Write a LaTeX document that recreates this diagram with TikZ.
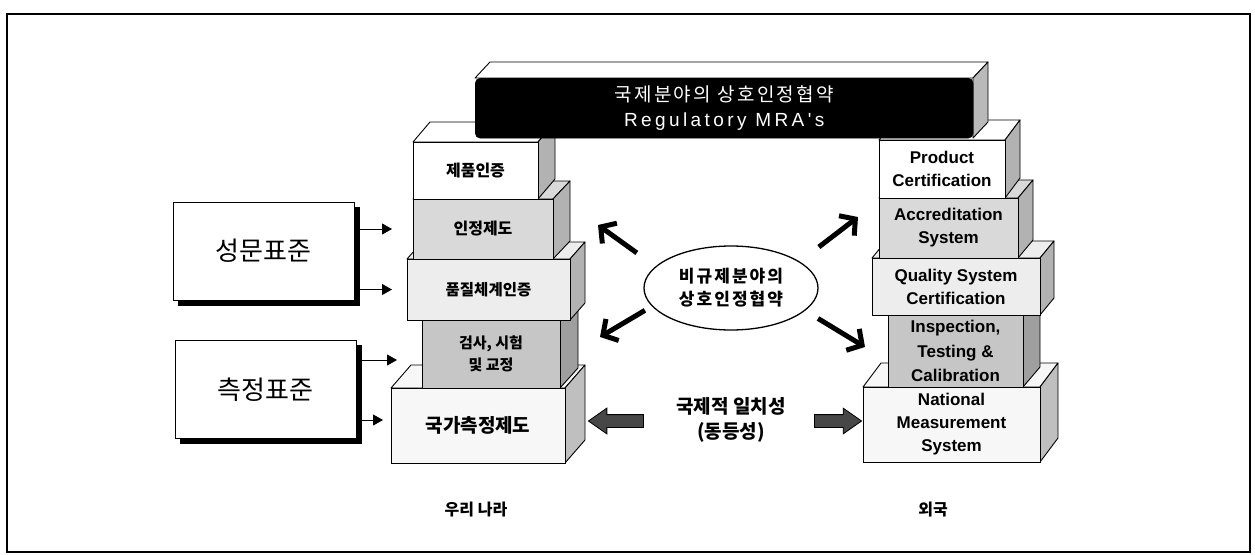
\documentclass[tikz,border=0pt]{standalone}
\usepackage{fontspec}
\setmainfont{Liberation Sans}
\newfontfamily\kr{Noto Sans CJK KR}
\newfontfamily\krsp{Noto Sans CJK KR}[LetterSpace=12]
\newfontfamily\latsp{Liberation Sans}[LetterSpace=18]
\usetikzlibrary{shapes.geometric,shapes.arrows,arrows.meta}

\colorlet{sideshade}{gray!55}

% 3-D block: #1 name, #2 x1, #3 y1, #4 x2, #5 y2 (front face), #6/#7 depth, #8 options, #9 text
\newcommand\stackbox[9]{%
  \filldraw[#8, facestroke] (#2,#3) -- (#2+#6,#3-#7) -- (#4+#6,#3-#7) -- (#4,#3) -- cycle;
  \filldraw[fill=sideshade, facestroke] (#4,#3) -- (#4+#6,#3-#7) -- (#4+#6,#5-#7) -- (#4,#5) -- cycle;
  \node[frontface, #8, minimum width={(#4-#2)*1pt}, minimum height={(#5-#3)*1pt},
        anchor=north west] (#1) at (#2,#3) {#9};
}

\begin{document}
\begin{tikzpicture}[x=1pt,y=-1pt,
  facestroke/.style={draw=black, line width=0.9pt, line join=round},
  frontface/.style={draw=black, line width=0.9pt, inner sep=0pt, outer sep=0pt, align=center},
  krlab/.style={font=\kr\bfseries\fontsize{#1}{22}\selectfont},
  enlab/.style={font=\bfseries\fontsize{17}{23}\selectfont},
  stdbox/.style={draw=black, line width=1pt, fill=white, minimum width=181pt, minimum height=98pt,
    outer sep=0pt, font=\kr\fontsize{26}{30}\selectfont},
  stdshadow/.style={fill=black, draw=black, line width=1pt, minimum width=181pt, minimum height=98pt, outer sep=0pt},
  thinarrow/.style={line width=1pt, -{Triangle[length=10pt,width=11pt]}},
  fatarrow/.style={line width=5pt, -{Straight Barb[length=11pt,width=25pt]}},
  blockarrow/.style={single arrow, draw=black, line width=0.8pt, fill=black!72,
    single arrow head extend=6.5pt, single arrow tip angle=70, inner sep=0pt},
]
\useasboundingbox (0,0) rectangle (1255,554);
\draw[line width=1.8pt] (7,14) rectangle (1250,552);

% domestic stack
\colorlet{sideshade}{gray!50}
\stackbox{K5}{391}{388}{565}{463}{20}{23}{fill=gray!6, krlab=19}{국가측정제도}
\colorlet{sideshade}{gray!75}
\stackbox{K4}{422}{320}{560}{388}{18}{20}{fill=gray!45, krlab=15}{검사, 시험\\및 교정}
\colorlet{sideshade}{gray!60}
\stackbox{K3}{407}{259}{570}{320}{15}{17}{fill=gray!14, krlab=15.5}{품질체계인증}
\stackbox{K2}{413}{199}{553}{259}{17}{18}{fill=gray!30, krlab=16}{인정제도}
\stackbox{K1}{413}{142}{538}{199}{17}{20}{fill=white, krlab=16}{제품인증}

% foreign stack
\colorlet{sideshade}{gray!50}
\stackbox{E5}{863}{387}{1040}{462}{18}{24}{fill=gray!6, enlab}{National\\Measurement\\System}
\colorlet{sideshade}{gray!75}
\stackbox{E4}{888}{315}{1023}{387}{17}{20}{fill=gray!45, font=\bfseries\fontsize{17}{24.5}\selectfont}{Inspection,\\Testing \&\\Calibration}
\colorlet{sideshade}{gray!60}
\stackbox{E3}{872}{258}{1040}{315}{14}{17}{fill=gray!14, enlab}{Quality System\\Certification}
\stackbox{E2}{879}{198}{1018}{258}{15}{18}{fill=gray!30, enlab}{Accreditation\\System}
\stackbox{E1}{879}{140}{1005}{198}{15}{20}{fill=white, enlab}{Product\\Certification}

% regulatory MRA bar across the top
\filldraw[fill=white, facestroke] (475,78) -- (490,62) -- (988,62) -- (973,78) -- cycle;
\filldraw[fill=gray!55, facestroke] (973,78) -- (988,62) -- (988,122) -- (973,138) -- cycle;
\node[fill=black, draw=black, rounded corners=5pt, minimum width=498pt, minimum height=60pt,
      anchor=north west, text=white, align=center, inner sep=0pt,
      font=\fontsize{19}{25}\selectfont] (MRA) at (475,78)
      {\krsp 국제분야의 상호인정협약\\\latsp Regulatory MRA's};

% standards, each over a solid black shadow
\node[stdshadow] (S1s) at (268.5,256) {};
\node[stdshadow] (S2s) at (270.5,394.5) {};
\node[stdbox] (S1) at (263.5,251) {성문표준};
\node[stdbox] (S2) at (265.5,389.5) {측정표준};

\coordinate (K4in) at ([yshift=-6pt]K4.west);
\coordinate (K5in) at ([yshift=5.5pt]K5.west);
\draw[thinarrow, shorten >=21pt] (S1s.east |- K2.west) -- (K2.west);
\draw[thinarrow, shorten >=15pt] (S1s.east |- K3.west) -- (K3.west);
\draw[thinarrow, shorten >=25pt] (S2s.east |- K4in) -- (K4in);
\draw[thinarrow, shorten >=8pt] (S2s.east |- K5in) -- (K5in);

% non-regulatory MRA
\node[ellipse, draw, line width=1.3pt, minimum width=174pt, minimum height=84pt, inner sep=0pt,
      align=center, font=\krsp\bfseries\fontsize{17}{23}\selectfont] (ELL) at (731,288)
      {비규제분야의\\상호인정협약};
\coordinate (tUL) at (598,225);
\coordinate (tUR) at (858,217);
\coordinate (tDL) at (600,337);
\coordinate (tDR) at (865,347);
\draw[fatarrow, shorten <=23pt] (ELL.164) -- (tUL);
\draw[fatarrow, shorten <=24pt] (ELL.21) -- (tUR);
\draw[fatarrow, shorten <=8pt] (ELL.193) -- (tDL);
\draw[fatarrow, shorten <=15pt] (ELL.343) -- (tDR);

% equivalence
\node[font=\kr\bfseries\fontsize{19}{25}\selectfont, align=center] (EQ) at (731,420)
      {국제적 일치성\\(동등성)};
\node[blockarrow, shape border rotate=180, minimum height=55pt] (LA) at (620.5,421) {\rule{0pt}{12pt}};
\node[blockarrow, minimum height=47pt] (RA) at (833.5,421) {\rule{0pt}{12pt}};

% captions
\node[font=\kr\bfseries\fontsize{16}{20}\selectfont] (LN) at (476,510) {우리 나라};
\node[font=\kr\bfseries\fontsize{16}{20}\selectfont] (RN) at (933,510) {외국};
\end{tikzpicture}
\end{document}
